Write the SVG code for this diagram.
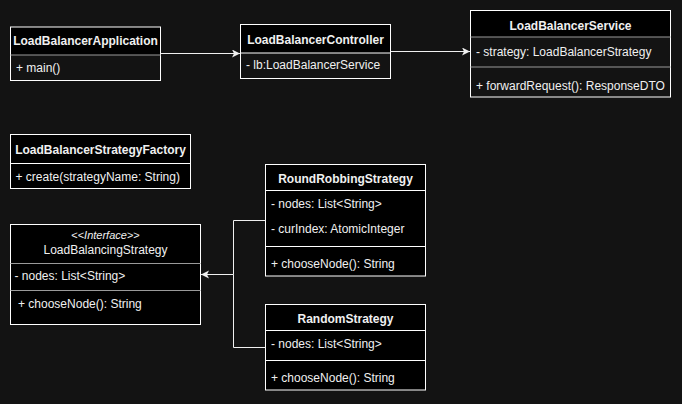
<svg xmlns="http://www.w3.org/2000/svg" width="682" height="404" viewBox="0 0 682 404">
<style>
.hdr{fill:#000000;}
.box{stroke:#ffffff;stroke-width:1;}
.bd{fill:#000000;}
.tr{fill:none;}
.div{stroke:#9a9a9a;stroke-width:1;}
.t{font-family:"Liberation Sans",Arial,sans-serif;font-size:12px;fill:#f0f0f0;}
.b{font-weight:bold;}
.c{text-anchor:middle;}
.edge{fill:none;stroke:#f0f0f0;stroke-width:1;}
</style>
<defs>
<marker id="blk" markerWidth="10" markerHeight="10" refX="8" refY="4" orient="auto" markerUnits="userSpaceOnUse">
<path d="M0,0 L8,4 L0,8 L2,4 Z" fill="#f0f0f0"/>
</marker>
</defs>
<rect x="0" y="0" width="682" height="404" fill="#131313"/>

<g id="LoadBalancerApplication">
<rect x="10.5" y="27" width="150" height="28" class="hdr"/>
<rect x="10.5" y="27" width="150" height="53.5" class="box tr"/>
<line x1="10.5" y1="55" x2="160.5" y2="55" class="div"/>
<text x="85.5" y="45" class="t b c">LoadBalancerApplication</text>
<text x="16" y="72" class="t">+ main()</text>
</g>

<g id="LoadBalancerController">
<rect x="240.5" y="24.5" width="150" height="28.5" class="hdr"/>
<rect x="240.5" y="24.5" width="150" height="54" class="box tr"/>
<line x1="240.5" y1="53" x2="390.5" y2="53" class="box"/>
<text x="315.5" y="43.5" class="t b c">LoadBalancerController</text>
<text x="246" y="69" class="t">- lb:LoadBalancerService</text>
</g>

<g id="LoadBalancerService">
<rect x="470.5" y="10.5" width="200" height="26.5" class="hdr"/>
<rect x="470.5" y="10.5" width="200" height="86.5" class="box tr"/>
<line x1="470.5" y1="37" x2="670.5" y2="37" class="div"/>
<line x1="470.5" y1="67" x2="670.5" y2="67" class="div"/>
<text x="570.5" y="29.5" class="t b c">LoadBalancerService</text>
<text x="476" y="55.5" class="t">- strategy: LoadBalancerStrategy</text>
<text x="476" y="89.5" class="t">+ forwardRequest(): ResponseDTO</text>
</g>

<g id="LoadBalancerStrategyFactory">
<rect x="10.5" y="134.5" width="180" height="54" class="bd box"/>
<line x1="10.5" y1="163.5" x2="190.5" y2="163.5" class="box"/>
<text x="100.5" y="153.5" class="t b c">LoadBalancerStrategyFactory</text>
<text x="15.5" y="180.5" class="t">+ create(strategyName: String)</text>
</g>

<g id="RoundRobbingStrategy">
<rect x="265.5" y="164.5" width="160" height="111.5" class="bd box"/>
<line x1="265.5" y1="190.5" x2="425.5" y2="190.5" class="box"/>
<line x1="265.5" y1="246.5" x2="425.5" y2="246.5" class="box"/>
<text x="345.5" y="183" class="t b c">RoundRobbingStrategy</text>
<text x="271" y="208" class="t">- nodes: List&lt;String&gt;</text>
<text x="271" y="233" class="t">- curIndex: AtomicInteger</text>
<text x="271" y="268" class="t">+ chooseNode(): String</text>
</g>

<g id="RandomStrategy">
<rect x="265.5" y="304.5" width="160" height="85.5" class="bd box"/>
<line x1="265.5" y1="330.5" x2="425.5" y2="330.5" class="box"/>
<line x1="265.5" y1="360.5" x2="425.5" y2="360.5" class="box"/>
<text x="345.5" y="322.5" class="t b c">RandomStrategy</text>
<text x="271" y="348" class="t">- nodes: List&lt;String&gt;</text>
<text x="271" y="382" class="t">+ chooseNode(): String</text>
</g>

<g id="LoadBalancingStrategy">
<rect x="10.5" y="224.5" width="190" height="100" class="bd box"/>
<line x1="10.5" y1="263.5" x2="200.5" y2="263.5" class="div"/>
<line x1="10.5" y1="290.5" x2="200.5" y2="290.5" class="div"/>
<text x="105.5" y="239" class="t c" style="font-size:11px">&lt;&lt;<tspan font-style="italic">Interface</tspan>&gt;&gt;</text>
<text x="105.5" y="253.5" class="t c">LoadBalancingStrategy</text>
<text x="14.5" y="280" class="t">- nodes: List&lt;String&gt;</text>
<text x="18" y="308" class="t">+ chooseNode(): String</text>
</g>

<g id="connectors">
<path d="M160.5,53.5 L240,53.5" class="edge" marker-end="url(#blk)"/>
<path d="M390.5,51.5 L470,51.5" class="edge" marker-end="url(#blk)"/>
<path d="M265.5,220.5 L233.5,220.5 L233.5,274.5 L201,274.5" class="edge" marker-end="url(#blk)"/>
<path d="M265.5,347.5 L233.5,347.5 L233.5,274.5" class="edge"/>
</g>
</svg>
